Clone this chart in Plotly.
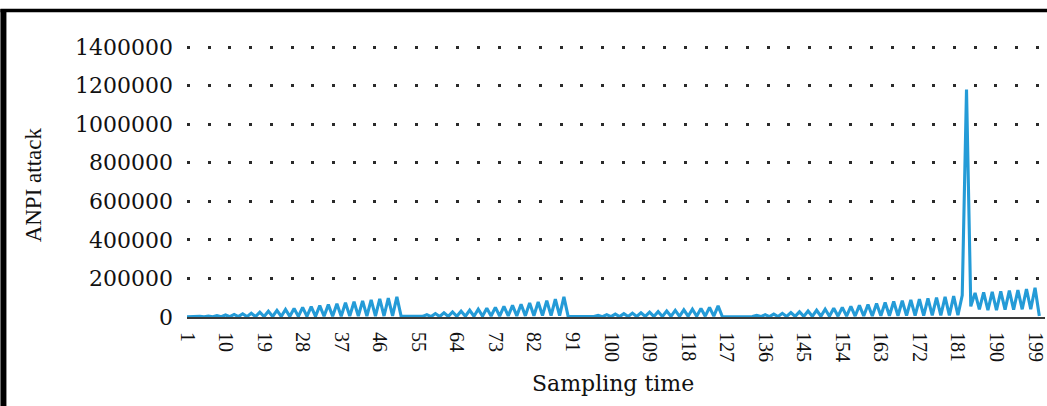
import plotly.graph_objects as go

# Sampling instants 1..200 and the ANPI attack feature measured at each one
sampling_time = list(range(1, 201))
anpi_attack = [
    500, 2000, 800, 3000, 1000, 5000, 1200, 7500, 1500, 10500,
    1600, 13500, 1800, 16500, 2000, 19500, 2200, 24500, 2400, 29500,
    2600, 34500, 2800, 39500, 3000, 44500, 3200, 49500, 3400, 54000,
    3600, 59000, 3800, 64000, 4000, 69000, 4200, 74000, 4400, 79000,
    4600, 84000, 4800, 89000, 5000, 94000, 5200, 98000, 5400, 104000,
    3000, 2500, 3500, 3000, 4000, 3500, 12000, 2000, 18000, 2500,
    22000, 3000, 26000, 3500, 30000, 4000, 35000, 4000, 40000, 4500,
    45000, 5000, 50000, 5000, 55000, 5500, 60000, 6000, 66000, 6000,
    72000, 6500, 78000, 7000, 85000, 7000, 92000, 7500, 104000, 2000,
    2500, 2000, 2500, 2000, 3000, 2000, 8000, 1500, 12000, 2000,
    15000, 2000, 17000, 2500, 20000, 2500, 22000, 3000, 25000, 3000,
    28000, 3000, 31000, 3500, 34000, 3500, 37000, 4000, 40000, 4000,
    44000, 4500, 50000, 4500, 58000, 1500, 1500, 1000, 1200, 800,
    1500, 1000, 3000, 8000, 2000, 12000, 2200, 15000, 2500, 19000,
    2800, 23000, 3000, 27000, 3200, 31000, 3500, 35000, 3800, 40000,
    4000, 45000, 4300, 50000, 4600, 55000, 5000, 60000, 5300, 65000,
    5600, 70000, 6000, 75000, 6300, 80000, 6600, 84000, 7000, 88000,
    7300, 92000, 7600, 96000, 8000, 100000, 8300, 104000, 8600, 108000,
    9000, 112000, 1180000, 55000, 125000, 40000, 128000, 35000, 130000, 35000,
    133000, 38000, 137000, 38000, 140000, 40000, 145000, 40000, 152000, 5000,
]

x_tick_vals = [1, 10, 19, 28, 37, 46, 55, 64, 73, 82, 91, 100, 109, 118,
               127, 136, 145, 154, 163, 172, 181, 190, 199]
x_tick_text = [str(v) for v in x_tick_vals]
y_tick_vals = [0, 200000, 400000, 600000, 800000, 1000000, 1200000, 1400000]
y_tick_text = ["0", "200000", "400000", "600000", "800000",
               "1000000", "1200000", "1400000"]

W, H = 1047, 406
L, R, T, B = 187, 0, 44, 89
PW, PH = W - L - R, H - T - B
# 270 px between 0 and 1,400,000; a little headroom keeps the top gridline
Y_TOP = 1400000 * PH / 270
# about 4.29 px per sampling step
X_END = 1 + PW / 4.293

TEXT = "#111111"


def px_x(px):
    return (px - L) / PW


def px_y(py):
    return (H - B - py) / PH


fig = go.Figure()
fig.add_trace(go.Scatter(
    x=sampling_time, y=anpi_attack, mode="lines",
    line=dict(color="#249bd7", width=3.1),
    hoverinfo="skip", showlegend=False,
))

fig.update_layout(
    width=W, height=H,
    margin=dict(l=L, r=R, t=T, b=B, pad=0),
    paper_bgcolor="white", plot_bgcolor="white",
    xaxis=dict(
        range=[1, X_END], showgrid=False, zeroline=False,
        showline=True, linecolor="#3a3a3a", linewidth=2,
        tickmode="array", tickvals=x_tick_vals, ticktext=x_tick_text,
        tickangle=90, ticks="", ticklabelstandoff=9,
        ticklabeloverflow="allow",
        tickfont=dict(family="Liberation Serif", size=20, color=TEXT),
    ),
    yaxis=dict(
        range=[0, Y_TOP], showgrid=True, gridcolor="#2a2a2a",
        gridwidth=2.5, griddash="3px,17.7px", zeroline=False, showline=False,
        tickmode="array", tickvals=y_tick_vals, ticktext=y_tick_text,
        ticks="", ticklabelstandoff=13,
        tickfont=dict(family="DejaVu Serif", size=22, color=TEXT),
    ),
    annotations=[
        dict(text="Sampling time", xref="paper", yref="paper",
             x=px_x(614), y=px_y(383), xanchor="center", yanchor="middle",
             showarrow=False,
             font=dict(family="DejaVu Serif", size=22, color=TEXT)),
        dict(text="ANPI attack", xref="paper", yref="paper",
             x=px_x(34), y=px_y(185), xanchor="center", yanchor="middle",
             textangle=-90, showarrow=False,
             font=dict(family="Liberation Serif", size=23, color=TEXT)),
    ],
    shapes=[
        # frame around the figure
        dict(type="line", xref="paper", yref="paper",
             x0=px_x(3), x1=px_x(3), y0=px_y(9), y1=px_y(420),
             line=dict(color="black", width=6)),
        dict(type="line", xref="paper", yref="paper",
             x0=px_x(0), x1=px_x(1060), y0=px_y(10.6), y1=px_y(10.6),
             line=dict(color="black", width=3.5)),
    ],
)

fig.write_html("out.html")
